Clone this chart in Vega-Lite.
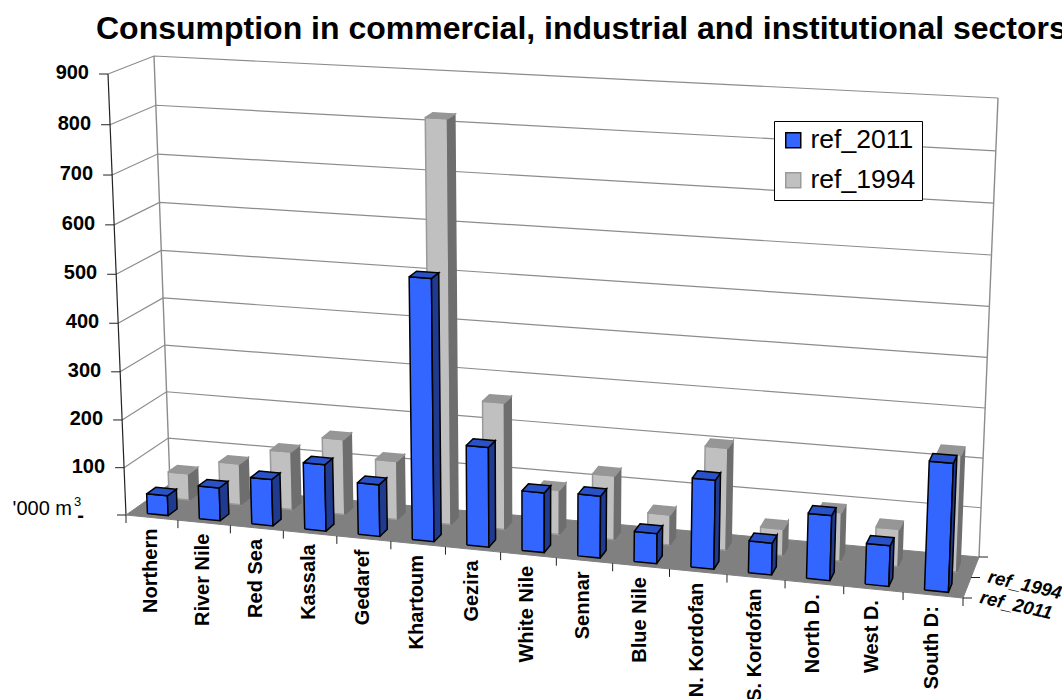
{
"$schema":"https://vega.github.io/schema/vega-lite/v6.json",
"width":1062,"height":699,"padding":0,"autosize":{"type":"none"},
"background":"white",
"title":{"text":"Consumption in commercial, industrial and institutional sectors","anchor":"start","frame":"group","offset":-46,"dx":96,"fontSize":32,"font":"Liberation Sans","fontWeight":"bold","color":"black"},
"config":{"view":{"stroke":null},"font":"Liberation Sans"},
"datasets":{
"bars":[
{"region":"Northern","series":"ref_1994","value":56},{"region":"River Nile","series":"ref_1994","value":87},{"region":"Red Sea","series":"ref_1994","value":122},{"region":"Kassala","series":"ref_1994","value":158},{"region":"Gedaref","series":"ref_1994","value":122},{"region":"Khartoum","series":"ref_1994","value":824},{"region":"Gezira","series":"ref_1994","value":262},{"region":"White Nile","series":"ref_1994","value":92},{"region":"Sennar","series":"ref_1994","value":132},{"region":"Blue Nile","series":"ref_1994","value":62},{"region":"N. Kordofan","series":"ref_1994","value":208},{"region":"S. Kordofan","series":"ref_1994","value":54},{"region":"North D.","series":"ref_1994","value":98},{"region":"West D.","series":"ref_1994","value":75},{"region":"South D:","series":"ref_1994","value":234},
{"region":"Northern","series":"ref_2011","value":42},{"region":"River Nile","series":"ref_2011","value":69},{"region":"Red Sea","series":"ref_2011","value":97},{"region":"Kassala","series":"ref_2011","value":138},{"region":"Gedaref","series":"ref_2011","value":107},{"region":"Khartoum","series":"ref_2011","value":534},{"region":"Gezira","series":"ref_2011","value":204},{"region":"White Nile","series":"ref_2011","value":122},{"region":"Sennar","series":"ref_2011","value":126},{"region":"Blue Nile","series":"ref_2011","value":61},{"region":"N. Kordofan","series":"ref_2011","value":179},{"region":"S. Kordofan","series":"ref_2011","value":64},{"region":"North D.","series":"ref_2011","value":130},{"region":"West D.","series":"ref_2011","value":81},{"region":"South D:","series":"ref_2011","value":254}
],
"levels":[{"level":0},{"level":100},{"level":200},{"level":300},{"level":400},{"level":500},{"level":600},{"level":700},{"level":800},{"level":900}],
"edges":[{"edge":"axis"},{"edge":"back left"},{"edge":"back right"}],
"boundaries":[{"boundary":0},{"boundary":1},{"boundary":2},{"boundary":3},{"boundary":4},{"boundary":5},{"boundary":6},{"boundary":7},{"boundary":8},{"boundary":9},{"boundary":10},{"boundary":11},{"boundary":12},{"boundary":13},{"boundary":14},{"boundary":15}],
"floor":[{"surface":"floor"}],
"depths":[{"name":"ref_2011","slot":0.25},{"name":"ref_1994","slot":0.75}]
},
"encoding":{
"x":{"field":"px","type":"quantitative","scale":{"domain":[0,1062],"nice":false,"zero":false},"axis":null},
"y":{"field":"py","type":"quantitative","scale":{"domain":[0,699],"reverse":true,"nice":false,"zero":false},"axis":null}
},
"layer":[
{"data":{"name":"levels"},
 "transform":[
 {"filter":"datum.level>0"},
 {"calculate":"[0,1,2]","as":"pts"},{"flatten":["pts"]},
 {"calculate":"datum.pts===2?15:0","as":"u"},{"calculate":"datum.pts===0?0:1","as":"d"},{"calculate":"datum.level","as":"v"},
 {"calculate":"(datum.u/15)/((datum.u/15)+1.08*(1-datum.u/15))","as":"U"},
 {"calculate":"(datum.v/900)/((datum.v/900)+1.04*(1-datum.v/900))","as":"V"},
 {"calculate":"(1-datum.U)*((1-datum.d)*126+datum.d*170)+datum.U*((1-datum.d)*963+datum.d*979)+datum.V*((1-datum.U)*((1-datum.d)*(-18)+datum.d*(-16))+datum.U*((1-datum.d)*19+datum.d*19))","as":"px"},
 {"calculate":"(1-datum.U)*((1-datum.d)*515+datum.d*484)+datum.U*((1-datum.d)*598+datum.d*557)+datum.V*((1-datum.U)*((1-datum.d)*(-441)+datum.d*(-428))+datum.U*((1-datum.d)*(-472)+datum.d*(-459)))","as":"py"}
 ],
 "mark":{"type":"line","stroke":"#8c8c8c","strokeWidth":1.2},
 "encoding":{"detail":{"field":"level"},"order":{"field":"pts"}}},
{"data":{"name":"edges"},
 "transform":[
 {"calculate":"[0,1]","as":"end"},{"flatten":["end"]},
 {"filter":"datum.edge!=='axis'"},
 {"calculate":"datum.edge==='back right'?15:0","as":"u"},{"calculate":"1","as":"d"},{"calculate":"datum.end*900","as":"v"},
 {"calculate":"(datum.u/15)/((datum.u/15)+1.08*(1-datum.u/15))","as":"U"},
 {"calculate":"(datum.v/900)/((datum.v/900)+1.04*(1-datum.v/900))","as":"V"},
 {"calculate":"(1-datum.U)*((1-datum.d)*126+datum.d*170)+datum.U*((1-datum.d)*963+datum.d*979)+datum.V*((1-datum.U)*((1-datum.d)*(-18)+datum.d*(-16))+datum.U*((1-datum.d)*19+datum.d*19))","as":"px"},
 {"calculate":"(1-datum.U)*((1-datum.d)*515+datum.d*484)+datum.U*((1-datum.d)*598+datum.d*557)+datum.V*((1-datum.U)*((1-datum.d)*(-441)+datum.d*(-428))+datum.U*((1-datum.d)*(-472)+datum.d*(-459)))","as":"py"}
 ],
 "mark":{"type":"line","stroke":"#8c8c8c","strokeWidth":1.4},
 "encoding":{"detail":{"field":"edge"},"order":{"field":"end"}}},
{"data":{"name":"edges"},
 "transform":[
 {"calculate":"[0,1]","as":"end"},{"flatten":["end"]},
 {"filter":"datum.edge==='axis'"},
 {"calculate":"datum.end","as":"V"},
 {"calculate":"126-18*datum.V","as":"px"},
 {"calculate":"515-441*datum.V","as":"py"}
 ],
 "mark":{"type":"line","stroke":"#222222","strokeWidth":1.2},
 "encoding":{"order":{"field":"end"}}},
{"data":{"name":"floor"},
 "transform":[
 {"calculate":"[0,1,2,3,4]","as":"vert"},{"flatten":["vert"]},
 {"calculate":"[0,1,1,0,0][datum.vert]","as":"U"},{"calculate":"[0,0,1,1,0][datum.vert]","as":"d"},
 {"calculate":"(1-datum.U)*((1-datum.d)*126+datum.d*170)+datum.U*((1-datum.d)*963+datum.d*979)","as":"px"},
 {"calculate":"(1-datum.U)*((1-datum.d)*515+datum.d*484)+datum.U*((1-datum.d)*598+datum.d*557)","as":"py"}
 ],
 "mark":{"type":"line","fill":"#808080","stroke":"#808080","strokeWidth":1},
 "encoding":{"order":{"field":"vert"}}},
{"data":{"name":"boundaries"},
 "transform":[
 {"calculate":"(datum.boundary/15)/((datum.boundary/15)+1.08*(1-datum.boundary/15))","as":"U"},
 {"calculate":"126+837*datum.U","as":"px"},{"calculate":"515+83*datum.U","as":"py"},{"calculate":"datum.py+8","as":"py2"}
 ],
 "mark":{"type":"rule","stroke":"#222222","strokeWidth":1},
 "encoding":{"y2":{"field":"py2"}}},
{"data":{"name":"levels"},
 "transform":[
 {"calculate":"(datum.level/900)/((datum.level/900)+1.04*(1-datum.level/900))","as":"V"},
 {"calculate":"126-18*datum.V","as":"px"},{"calculate":"515-441*datum.V","as":"py"},{"calculate":"datum.px-9","as":"px2"}
 ],
 "mark":{"type":"rule","stroke":"#222222","strokeWidth":1},
 "encoding":{"x2":{"field":"px2"}}},
{"data":{"name":"depths"},
 "transform":[
 {"calculate":"[0,0.5,1]","as":"mark"},{"flatten":["mark"]},
 {"filter":"datum.name==='ref_2011'"},
 {"calculate":"963+16*datum.mark","as":"px"},{"calculate":"598-41*datum.mark","as":"py"},{"calculate":"datum.px+9","as":"px2"}
 ],
 "mark":{"type":"rule","stroke":"#222222","strokeWidth":1},
 "encoding":{"x2":{"field":"px2"}}},
{"data":{"name":"bars"},
 "transform":[
 {"window":[{"op":"row_number","as":"rank"}],"groupby":["series"]},
 {"calculate":"['front','side','top']","as":"face"},{"flatten":["face"]},
 {"calculate":"[0,1,2,3,4]","as":"vert"},{"flatten":["vert"]},
 {"calculate":"datum.rank-1+({front:[0.33,0.73,0.73,0.33,0.33],side:[0.73,0.73,0.73,0.73,0.73],top:[0.33,0.73,0.73,0.33,0.33]})[datum.face][datum.vert]","as":"u"},
 {"calculate":"(datum.series==='ref_2011'?0.1:0.6)+({front:[0,0,0,0,0],side:[0,0.21,0.21,0,0],top:[0,0,0.21,0.21,0]})[datum.face][datum.vert]","as":"d"},
 {"calculate":"datum.value*({front:[0,0,1,1,0],side:[0,0,1,1,0],top:[1,1,1,1,1]})[datum.face][datum.vert]","as":"v"},
 {"calculate":"(datum.u/15)/((datum.u/15)+1.08*(1-datum.u/15))","as":"U"},
 {"calculate":"(datum.v/900)/((datum.v/900)+1.04*(1-datum.v/900))","as":"V"},
 {"calculate":"(1-datum.U)*((1-datum.d)*126+datum.d*170)+datum.U*((1-datum.d)*963+datum.d*979)+datum.V*((1-datum.U)*((1-datum.d)*(-18)+datum.d*(-16))+datum.U*((1-datum.d)*19+datum.d*19))","as":"px"},
 {"calculate":"(1-datum.U)*((1-datum.d)*515+datum.d*484)+datum.U*((1-datum.d)*598+datum.d*557)+datum.V*((1-datum.U)*((1-datum.d)*(-441)+datum.d*(-428))+datum.U*((1-datum.d)*(-472)+datum.d*(-459)))","as":"py"},
 {"calculate":"datum.face==='front'?datum.series:datum.series+' '+datum.face","as":"tone"},
 {"calculate":"datum.series+datum.region+datum.face","as":"faceId"}
 ],
 "mark":{"type":"line","strokeWidth":1.5,"strokeJoin":"miter"},
 "encoding":{
 "detail":{"field":"faceId"},
 "order":{"field":"vert"},
 "fill":{"field":"tone","type":"nominal","title":null,
  "scale":{"domain":["ref_2011","ref_1994","ref_2011 side","ref_2011 top","ref_1994 side","ref_1994 top"],"range":["#3366ff","#c0c0c0","#1f3a8f","#2a52c8","#6e6e6e","#969696"]},
  "legend":{"values":["ref_2011","ref_1994"],"orient":"none","legendX":774,"legendY":121,"fillColor":"white","strokeColor":"black","padding":6,"zindex":1,"symbolType":"square","symbolSize":225,"symbolStrokeWidth":1.5,"labelFontSize":26.5,"labelFont":"Liberation Sans","labelColor":"black","labelOffset":4,"rowPadding":13,"symbolOffset":0,
   "encode":{"symbols":{"update":{"fill":{"scale":"fill","field":"value"},"stroke":{"scale":"stroke","field":"value"}}}}}},
 "stroke":{"field":"tone","type":"nominal","title":null,
  "scale":{"domain":["ref_2011","ref_1994","ref_2011 side","ref_2011 top","ref_1994 side","ref_1994 top"],"range":["#000000","#9a9a9a","#000000","#000000","#6e6e6e","#969696"]}}
 }},
{"data":{"name":"bars"},
 "transform":[
 {"filter":"datum.series==='ref_2011'"},
 {"window":[{"op":"row_number","as":"rank"}]},
 {"calculate":"((datum.rank-0.5)/15)/(((datum.rank-0.5)/15)+1.08*(1-(datum.rank-0.5)/15))","as":"U"},
 {"calculate":"126+837*datum.U-1","as":"px"},{"calculate":"515+83*datum.U+11","as":"py"}
 ],
 "mark":{"type":"text","angle":270,"align":"right","baseline":"middle","fontSize":20,"fontWeight":"bold","font":"Liberation Sans","color":"black"},
 "encoding":{"text":{"field":"region"}}},
{"data":{"name":"levels"},
 "transform":[
 {"filter":"datum.level>0"},
 {"calculate":"(datum.level/900)/((datum.level/900)+1.04*(1-datum.level/900))","as":"V"},
 {"calculate":"126-18*datum.V","as":"px"},{"calculate":"515-441*datum.V-1","as":"py"}
 ],
 "mark":{"type":"text","align":"right","baseline":"middle","dx":-19,"fontSize":20,"fontWeight":"bold","font":"Liberation Sans","color":"black"},
 "encoding":{"text":{"field":"level"}}},
{"data":{"name":"levels"},
 "transform":[
 {"filter":"datum.level===0"},
 {"calculate":"126","as":"px"},{"calculate":"515","as":"py"},{"calculate":"'-'","as":"dash"}
 ],
 "mark":{"type":"text","align":"right","baseline":"alphabetic","dx":-42,"dy":7,"fontSize":20,"fontWeight":"bold","font":"Liberation Sans","color":"black"},
 "encoding":{"text":{"field":"dash"}}},
{"data":{"name":"levels"},
 "transform":[
 {"filter":"datum.level===0"},
 {"calculate":"126","as":"px"},{"calculate":"515","as":"py"},{"calculate":"\"'000 m\"","as":"unit"}
 ],
 "mark":{"type":"text","align":"right","baseline":"alphabetic","dx":-54,"fontSize":20,"font":"Liberation Sans","color":"black"},
 "encoding":{"text":{"field":"unit"}}},
{"data":{"name":"levels"},
 "transform":[
 {"filter":"datum.level===0"},
 {"calculate":"126","as":"px"},{"calculate":"515","as":"py"},{"calculate":"'3'","as":"power"}
 ],
 "mark":{"type":"text","align":"left","baseline":"alphabetic","dx":-52,"dy":-9,"fontSize":13,"font":"Liberation Sans","color":"black"},
 "encoding":{"text":{"field":"power"}}},
{"data":{"name":"depths"},
 "transform":[
 {"calculate":"963+16*datum.slot","as":"px"},{"calculate":"598-41*datum.slot","as":"py"}
 ],
 "mark":{"type":"text","angle":13,"align":"left","baseline":"middle","dx":15,"dy":6,"fontSize":18.5,"fontWeight":"bold","fontStyle":"italic","font":"Liberation Sans","color":"black"},
 "encoding":{"text":{"field":"name"}}}
]
}
